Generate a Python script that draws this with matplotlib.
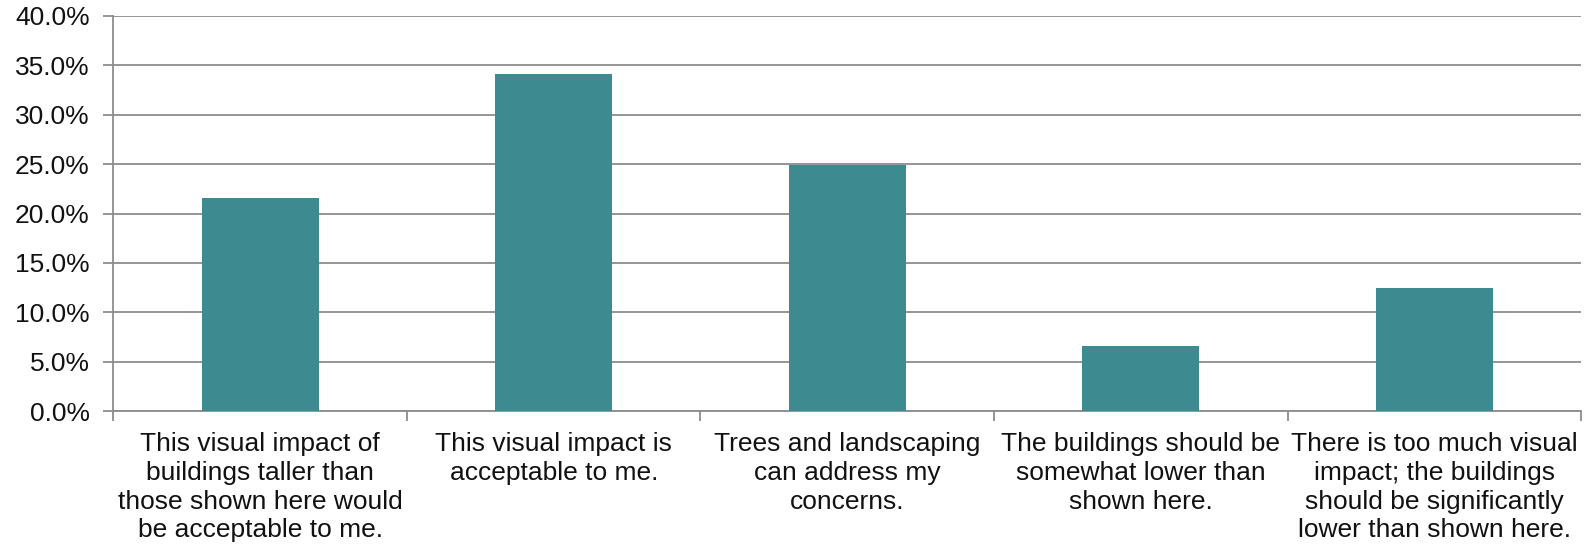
import matplotlib
matplotlib.use("Agg")
import matplotlib.pyplot as plt
from matplotlib.ticker import FuncFormatter, FixedLocator
import numpy as np

categories = [
    "This visual impact of\nbuildings taller than\nthose shown here would\nbe acceptable to me.",
    "This visual impact is\nacceptable to me.",
    "Trees and landscaping\ncan address my\nconcerns.",
    "The buildings should be\nsomewhat lower than\nshown here.",
    "There is too much visual\nimpact; the buildings\nshould be significantly\nlower than shown here.",
]
values = [21.6, 34.1, 24.9, 6.6, 12.5]
yticks = [0, 5, 10, 15, 20, 25, 30, 35, 40]

plt.rcParams['font.family'] = ['Liberation Sans', 'DejaVu Sans']

fig = plt.figure(figsize=(15.89, 5.49), dpi=100)
ax = fig.add_axes([0.0714, 0.251, 0.9236, 0.720])

x = np.arange(len(categories))
ax.bar(x, values, width=0.4, color="#3D8B91", zorder=3)

ax.set_xlim(-0.5, len(categories) - 0.5)
ax.set_ylim(0, 40)
ax.set_yticks(yticks)
ax.yaxis.set_major_formatter(FuncFormatter(lambda v, p: f"{v:.1f}%"))
ax.yaxis.grid(True, color="#8C8C8C", linewidth=1.3, zorder=0)
ax.set_axisbelow(True)

# category boundary ticks
ax.xaxis.set_major_locator(FixedLocator(np.arange(-0.5, len(categories), 1.0)))
ax.set_xticklabels([])
ax.xaxis.set_minor_locator(FixedLocator(x))
ax.set_xticklabels(categories, minor=True, fontsize=19, linespacing=1.25, color="#111111")
ax.tick_params(axis='x', which='minor', length=0, pad=15)
ax.tick_params(axis='x', which='major', length=7, width=1.3, color="#8C8C8C")
ax.tick_params(axis='y', length=7, width=1.3, color="#8C8C8C", labelsize=19, pad=10,
               labelcolor="#111111")

for s in ["top", "right"]:
    ax.spines[s].set_visible(False)
for s in ["left", "bottom"]:
    ax.spines[s].set_color("#8C8C8C")
    ax.spines[s].set_linewidth(1.3)

fig.savefig("out.png", dpi=100)
